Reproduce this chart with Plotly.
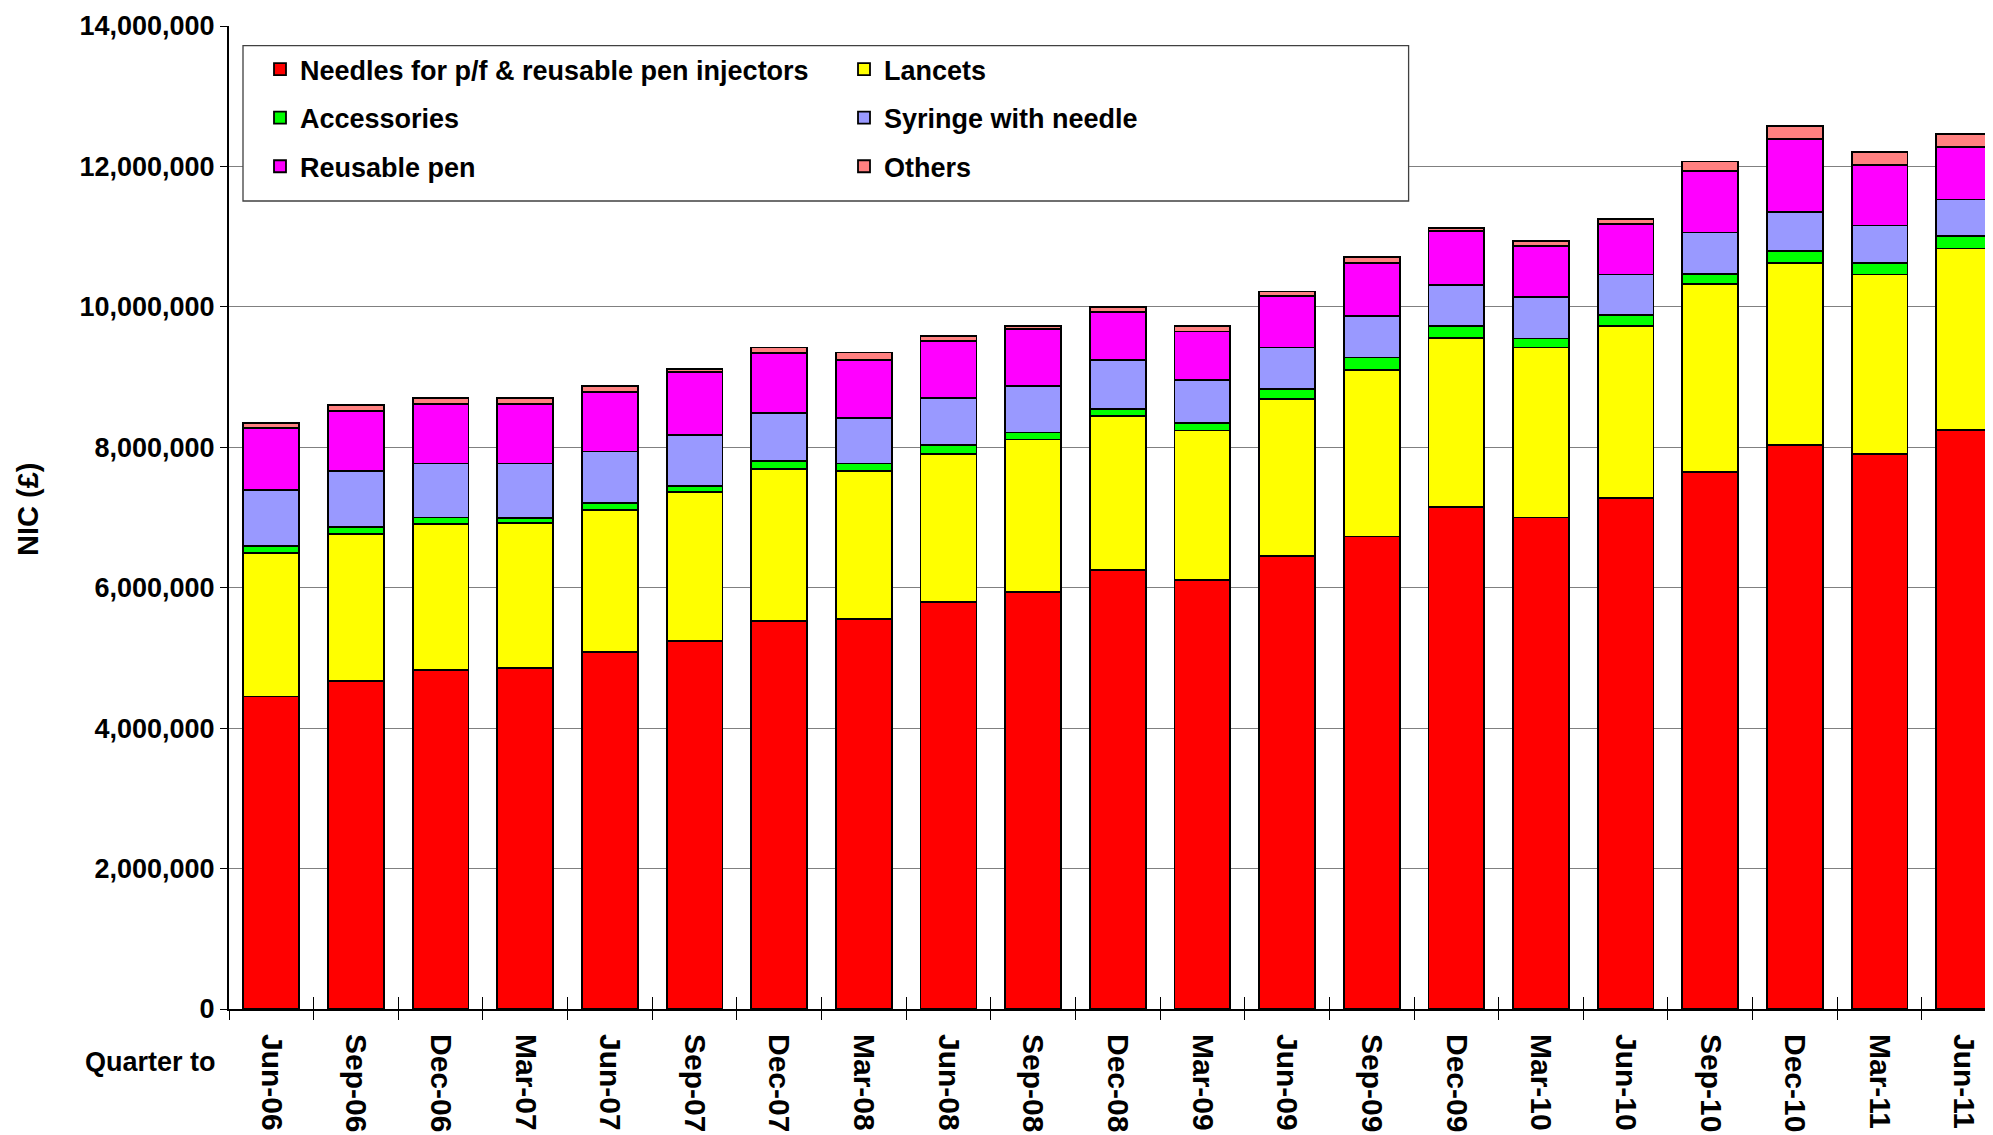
import plotly.graph_objects as go

quarters = ["Jun-06", "Sep-06", "Dec-06", "Mar-07", "Jun-07", "Sep-07", "Dec-07",
            "Mar-08", "Jun-08", "Sep-08", "Dec-08", "Mar-09", "Jun-09", "Sep-09",
            "Dec-09", "Mar-10", "Jun-10", "Sep-10", "Dec-10", "Mar-11", "Jun-11"]

needles = [4.45, 4.67, 4.83, 4.86, 5.08, 5.24, 5.53, 5.56, 5.80, 5.94, 6.25,
           6.11, 6.45, 6.73, 7.15, 7.00, 7.28, 7.65, 8.03, 7.90, 8.25]
lancets = [2.04, 2.10, 2.08, 2.06, 2.03, 2.12, 2.16, 2.10, 2.10, 2.17, 2.19,
           2.13, 2.24, 2.37, 2.41, 2.42, 2.45, 2.68, 2.59, 2.56, 2.58]
accessories = [0.10, 0.10, 0.09, 0.07, 0.10, 0.09, 0.11, 0.11, 0.13, 0.10, 0.11,
               0.11, 0.14, 0.18, 0.17, 0.13, 0.15, 0.14, 0.18, 0.16, 0.18]
syringe = [0.80, 0.79, 0.77, 0.78, 0.73, 0.73, 0.69, 0.65, 0.67, 0.66, 0.69,
           0.61, 0.59, 0.59, 0.58, 0.59, 0.58, 0.59, 0.55, 0.54, 0.52]
reusable_pen = [0.89, 0.86, 0.85, 0.85, 0.85, 0.89, 0.85, 0.82, 0.81, 0.81, 0.69,
                0.69, 0.73, 0.76, 0.77, 0.73, 0.72, 0.87, 1.04, 0.86, 0.75]
others = [0.07, 0.08, 0.08, 0.08, 0.08, 0.04, 0.08, 0.11, 0.08, 0.05, 0.07,
          0.08, 0.07, 0.08, 0.04, 0.07, 0.07, 0.14, 0.19, 0.18, 0.18]

y_ticks = [0, 2000000, 4000000, 6000000, 8000000, 10000000, 12000000, 14000000]
y_tick_text = ["0", "2,000,000", "4,000,000", "6,000,000", "8,000,000",
               "10,000,000", "12,000,000", "14,000,000"]

series = [
    ("Needles for p/f & reusable pen injectors", needles, "#FF0000", "legend"),
    ("Lancets", lancets, "#FFFF00", "legend2"),
    ("Accessories", accessories, "#00FF00", "legend"),
    ("Syringe with needle", syringe, "#9999FF", "legend2"),
    ("Reusable pen", reusable_pen, "#FF00FF", "legend"),
    ("Others", others, "#FF8080", "legend2"),
]

FONT = "Liberation Sans, Arial, sans-serif"
W, H = 1985, 1127          # page body has an 8px margin
L, T, B = 221, 18, 126
PW, PH = W - L, H - T - B

fig = go.Figure()
for name, vals, color, leg in series:
    fig.add_trace(go.Bar(
        x=quarters, y=[v * 1e6 for v in vals], name=name,
        marker=dict(color=color, line=dict(color="#000000", width=1.8)),
        legend=leg, legendgroup=name,
    ))

# invisible trace carrying the overlay axis for the inside half of the cross ticks
fig.add_trace(go.Scatter(x=quarters, y=[0] * len(quarters), xaxis="x2", yaxis="y",
                         mode="markers", marker=dict(opacity=0), showlegend=False,
                         hoverinfo="skip"))

legend_common = dict(
    xref="container", yref="container", yanchor="top", xanchor="left",
    orientation="v", bgcolor="rgba(0,0,0,0)", borderwidth=0,
    font=dict(family=FONT, size=27, color="#000000", weight="bold"),
    tracegroupgap=10.5, traceorder="grouped",
)

fig.update_layout(
    width=W, height=H,
    margin=dict(l=L, r=0, t=T, b=B, autoexpand=False),
    paper_bgcolor="white", plot_bgcolor="white",
    barmode="stack", bargap=0.34,
    showlegend=True,
    legend=dict(x=252 / W, y=1 - 37 / H, **legend_common),
    legend2=dict(x=836 / W, y=1 - 37 / H, **legend_common),
    xaxis=dict(
        type="category", range=[-0.5, 20.34], tickson="boundaries",
        ticks="outside", ticklen=9, tickcolor="#000000", tickwidth=1,
        tickangle=90, showgrid=False, showline=True, linecolor="#000000",
        linewidth=2, automargin=False, ticklabelstandoff=17,
        tickfont=dict(family=FONT, size=30, color="#000000", weight="bold"),
    ),
    xaxis2=dict(
        type="category", overlaying="x", matches="x", side="bottom",
        tickson="boundaries", ticks="inside", ticklen=12, tickcolor="#000000",
        tickwidth=1, showticklabels=False, showgrid=False, showline=False,
    ),
    yaxis=dict(
        range=[0, 14000000], tickvals=y_ticks, ticktext=y_tick_text,
        ticks="outside", ticklen=7, tickcolor="#000000", tickwidth=1,
        showgrid=True, gridcolor="#808080", gridwidth=1,
        showline=True, linecolor="#000000", linewidth=2, zeroline=False,
        automargin=False,
        tickfont=dict(family=FONT, size=27, color="#000000", weight="bold"),
    ),
    shapes=[dict(
        type="rect", xref="paper", yref="paper",
        x0=(243 - 229) / PW, x1=(1408.6 - 229) / PW,
        y0=(1009 - 201) / PH, y1=(1009 - 45.7) / PH,
        fillcolor="white", line=dict(color="#404040", width=1.3), layer="above",
    )],
    annotations=[
        dict(text="Quarter to", xref="paper", yref="paper",
             x=(218 - 229) / PW, y=(1009 - 1062) / PH,
             xanchor="right", yanchor="middle", showarrow=False,
             font=dict(family=FONT, size=27, color="#000000", weight="bold")),
        dict(text="NIC (£)", xref="paper", yref="paper", textangle=-90,
             x=(28 - 229) / PW, y=(1009 - 510) / PH,
             xanchor="center", yanchor="middle", showarrow=False,
             font=dict(family=FONT, size=29, color="#000000", weight="bold")),
    ],
)

fig.write_html("out.html")
